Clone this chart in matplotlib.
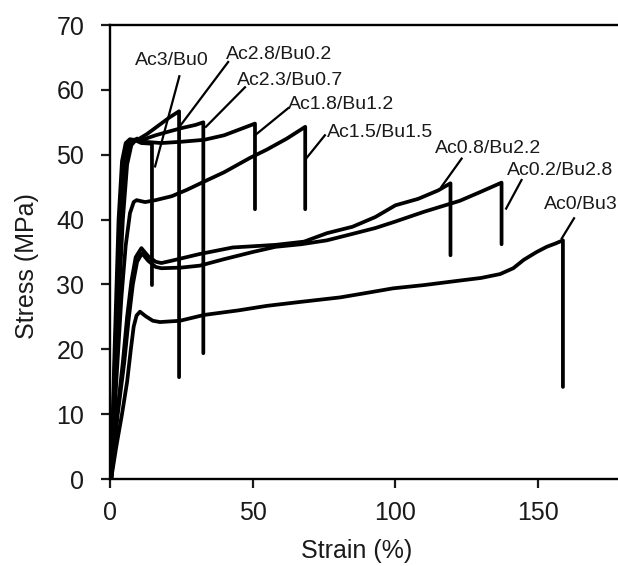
import matplotlib
matplotlib.use("Agg")
import matplotlib.pyplot as plt

plt.rcParams['font.family'] = ['Liberation Sans', 'DejaVu Sans']

labels = ["Ac3/Bu0", "Ac2.8/Bu0.2", "Ac2.3/Bu0.7", "Ac1.8/Bu1.2",
          "Ac1.5/Bu1.5", "Ac0.8/Bu2.2", "Ac0.2/Bu2.8", "Ac0/Bu3"]

strain_ac3 = [0.4, 1.6, 3.0, 4.2, 5.5, 7.0, 9.0, 11.0, 14.7, 14.7]
stress_ac3 = [0, 20, 40, 49, 51.8, 52.4, 52.2, 51.8, 51.7, 29.9]

strain_ac28 = [0.4, 1.8, 3.5, 5.0, 6.5, 8.0, 10.0, 13.0, 17.0, 21.0, 24.2, 24.2]
stress_ac28 = [0, 20, 40, 49.5, 51.8, 52.3, 52.4, 53.2, 54.5, 55.8, 56.7, 15.7]

strain_ac23 = [0.4, 2.0, 4.0, 5.5, 7.0, 9.0, 12.0, 16.0, 20.0, 25.0, 30.0, 32.7, 32.7]
stress_ac23 = [0, 20, 40, 49.5, 51.8, 52.3, 52.4, 53.0, 53.5, 54.1, 54.6, 55.0, 19.4]

strain_ac18 = [0.4, 2.2, 4.5, 6.0, 7.5, 9.5, 12.0, 18.0, 25.0, 33.0, 40.0, 46.0, 50.8, 50.8]
stress_ac18 = [0, 20, 40, 48.5, 51.5, 52.5, 52.0, 51.8, 52.0, 52.3, 53.0, 54.0, 54.8, 41.6]

strain_ac15 = [0.4, 2.2, 4.0, 5.5, 7.0, 8.3, 9.3, 12.3, 16.0, 21.6, 27.0, 32.7, 40.0, 49.0, 55.0, 62.0, 68.4, 68.4]
stress_ac15 = [0, 15, 28, 36, 41, 42.7, 43.0, 42.7, 43.0, 43.6, 44.6, 45.8, 47.3, 49.5, 50.8, 52.5, 54.3, 41.6]

strain_ac08 = [0.4, 2.5, 4.5, 6.0, 7.5, 9.0, 11.0, 13.5, 16.0, 18.0, 22.0, 31.5, 43.0, 58.0, 68.0,
               76.0, 85.0, 93.0, 100.0, 108.0, 115.0, 119.3, 119.3]
stress_ac08 = [0, 10, 18, 25, 30.5, 34.2, 35.6, 34.3, 33.5, 33.3, 33.7, 34.7, 35.7, 36.1, 36.6,
               37.9, 38.9, 40.4, 42.2, 43.2, 44.5, 45.6, 34.5]

strain_ac02 = [0.4, 2.7, 5.0, 6.5, 8.0, 9.5, 11.2, 13.5, 16.0, 18.0, 25.0, 31.5, 40.0, 50.0, 58.0,
               67.0, 76.0, 85.0, 93.0, 100.0, 110.0, 122.6, 130.0, 137.2, 137.2]
stress_ac02 = [0, 10, 18, 24.5, 30, 33.5, 34.8, 33.6, 32.7, 32.5, 32.6, 32.9, 33.9, 35.0, 35.8,
               36.2, 36.8, 37.8, 38.7, 39.7, 41.2, 42.9, 44.3, 45.7, 36.2]

strain_ac0 = [0.4, 2.2, 4.2, 6.0, 7.3, 8.3, 9.3, 10.5, 12.5, 15.0, 17.5, 24.5, 33.0, 45.0, 55.0,
              66.6, 80.6, 90.0, 99.2, 110.0, 122.6, 130.0, 136.7, 141.3, 145.0, 149.5, 153.0,
              156.0, 158.7, 158.7]
stress_ac0 = [0, 5, 10, 15, 20, 23.5, 25.2, 25.8, 25.1, 24.4, 24.2, 24.4, 25.3, 26.0, 26.7,
              27.3, 28.0, 28.7, 29.4, 29.9, 30.6, 31.0, 31.6, 32.5, 33.8, 35.0, 35.8,
              36.3, 36.8, 14.2]

strains = [strain_ac3, strain_ac28, strain_ac23, strain_ac18, strain_ac15, strain_ac08, strain_ac02, strain_ac0]
stresses = [stress_ac3, stress_ac28, stress_ac23, stress_ac18, stress_ac15, stress_ac08, stress_ac02, stress_ac0]

# label text centres (strain, stress)
label_x = [21.6, 59.2, 63.2, 80.8, 94.6, 132.6, 157.7, 164.9]
label_y = [64.6, 65.4, 61.5, 57.7, 53.5, 51.0, 47.6, 42.4]
# leader lines: start (near label) and end (near curve)
lead_x0 = [24.3, 41.4, 47.3, 62.5, 75.3, 123.2, 144.2, 162.6]
lead_y0 = [62.1, 64.3, 60.4, 57.2, 53.0, 49.4, 46.1, 40.2]
lead_x1 = [15.8, 24.5, 33.6, 50.8, 68.7, 116.2, 138.8, 158.3]
lead_y1 = [48.2, 54.4, 54.3, 53.0, 49.4, 45.1, 41.7, 37.1]

xticks = [0, 50, 100, 150]
yticks = [0, 10, 20, 30, 40, 50, 60, 70]

fig = plt.figure(figsize=(6.18, 5.66), dpi=100)
ax = fig.add_axes([0.178, 0.1537, 0.822, 0.8021])

for sx, sy in zip(strains, stresses):
    ax.plot(sx, sy, color='black', lw=2.7, solid_joinstyle='round', solid_capstyle='round')

for i, lab in enumerate(labels):
    ax.plot([lead_x0[i], lead_x1[i]], [lead_y0[i], lead_y1[i]], color='black', lw=1.6)
    ax.text(label_x[i], label_y[i], lab, ha='center', va='center', fontsize=14, color='#1a1a1a')

ax.set_xlim(0, 178)
ax.set_ylim(0, 70)
ax.set_xticks(xticks)
ax.set_yticks(yticks)
ax.spines['right'].set_visible(False)
for s in ['left', 'bottom', 'top']:
    ax.spines[s].set_linewidth(1.7)
ax.tick_params(axis='both', direction='out', length=6.5, width=1.6, labelsize=18, colors='#1a1a1a')
ax.tick_params(axis='y', pad=12)
ax.tick_params(axis='x', pad=9)

ax.set_xlabel('Strain (%)', fontsize=18, color='#1a1a1a')
ax.set_ylabel('Stress (MPa)', fontsize=18, color='#1a1a1a')
ax.xaxis.set_label_coords(0.486, -0.158)
ax.xaxis.label.set_verticalalignment('center')
ax.yaxis.set_label_coords(-0.163, 0.468)
ax.yaxis.label.set_verticalalignment('center')

fig.savefig('out.png', dpi=100)
